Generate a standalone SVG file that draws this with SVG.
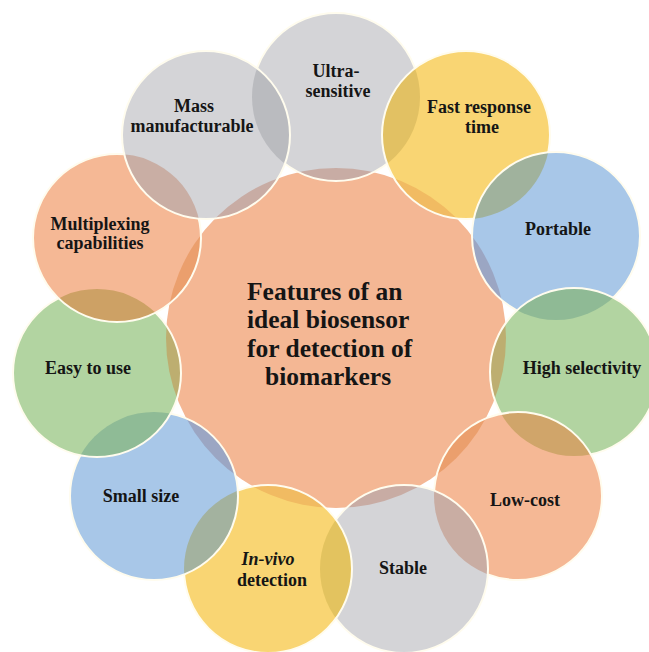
<svg xmlns="http://www.w3.org/2000/svg" width="649" height="652" viewBox="0 0 649 652">
<style>
.o{stroke:#fffcee;stroke-width:2;fill:none}
.lbl{font-family:"Liberation Serif","Times New Roman",serif;font-weight:bold;font-size:18px;fill:#151515;text-anchor:middle}
.ctr{font-family:"Liberation Serif","Times New Roman",serif;font-weight:bold;font-size:25.5px;fill:#151515}
.gray{fill:#d4d4d7}.yel{fill:#f9d573}.blu{fill:#a8c7e8}.grn{fill:#b2d4a1}.sal{fill:#f5b895}
</style>
<defs>
<clipPath id="cc"><circle cx="336" cy="338" r="170"/></clipPath>
<clipPath id="c0"><circle cx="336" cy="97" r="84"/></clipPath>
<clipPath id="c1"><circle cx="466" cy="135" r="84"/></clipPath>
<clipPath id="c2"><circle cx="556" cy="236" r="84"/></clipPath>
<clipPath id="c3"><circle cx="574" cy="372" r="84"/></clipPath>
<clipPath id="c4"><circle cx="518" cy="496" r="84"/></clipPath>
<clipPath id="c5"><circle cx="404" cy="569" r="84"/></clipPath>
<clipPath id="c6"><circle cx="268" cy="569" r="84"/></clipPath>
<clipPath id="c7"><circle cx="154" cy="496" r="84"/></clipPath>
<clipPath id="c8"><circle cx="97" cy="373" r="84"/></clipPath>
<clipPath id="c9"><circle cx="117" cy="238" r="84"/></clipPath>
</defs>
<rect width="649" height="652" fill="#ffffff"/>

<g id="center">
<circle cx="336" cy="338" r="170" fill="#f4b794"/>
<text class="ctr" x="247" y="300">Features of an</text>
<text class="ctr" x="247" y="328">ideal biosensor</text>
<text class="ctr" x="247" y="357">for detection of</text>
<text class="ctr" x="265" y="385">biomarkers</text>
</g>

<g id="ultra-sensitive">
<circle class="gray" cx="336" cy="97" r="84"/>
<circle cx="336" cy="97" r="84" fill="#c8aca4" clip-path="url(#cc)"/>
<circle class="o" cx="336" cy="97" r="84"/>
<text class="lbl" x="336" y="77">Ultra-</text>
<text class="lbl" x="338" y="97">sensitive</text>
</g>

<g id="fast-response">
<circle class="yel" cx="466" cy="135" r="84"/>
<circle cx="466" cy="135" r="84" fill="#f1bb62" clip-path="url(#cc)"/>
<circle cx="466" cy="135" r="84" fill="#e2c163" clip-path="url(#c0)"/>
<circle class="o" cx="466" cy="135" r="84"/>
<text class="lbl" x="479" y="113">Fast response</text>
<text class="lbl" x="482" y="133">time</text>
</g>

<g id="portable">
<circle class="blu" cx="556" cy="236" r="84"/>
<circle cx="556" cy="236" r="84" fill="#9ba6c3" clip-path="url(#cc)"/>
<circle cx="556" cy="236" r="84" fill="#a0b29d" clip-path="url(#c1)"/>
<circle class="o" cx="556" cy="236" r="84"/>
<text class="lbl" x="558" y="235">Portable</text>
</g>

<g id="high-selectivity">
<circle class="grn" cx="574" cy="372" r="84"/>
<circle cx="574" cy="372" r="84" fill="#bdae70" clip-path="url(#cc)"/>
<circle cx="574" cy="372" r="84" fill="#8fba95" clip-path="url(#c2)"/>
<circle class="o" cx="574" cy="372" r="84"/>
<text class="lbl" x="582" y="374">High selectivity</text>
</g>

<g id="low-cost">
<circle class="sal" cx="518" cy="496" r="84"/>
<circle cx="518" cy="496" r="84" fill="#eb9f6d" clip-path="url(#cc)"/>
<circle cx="518" cy="496" r="84" fill="#d0a56a" clip-path="url(#c3)"/>
<circle class="o" cx="518" cy="496" r="84"/>
<text class="lbl" x="525" y="506">Low-cost</text>
</g>

<g id="stable">
<circle class="gray" cx="404" cy="569" r="84"/>
<circle cx="404" cy="569" r="84" fill="#c8aca4" clip-path="url(#cc)"/>
<circle cx="404" cy="569" r="84" fill="#c9ada3" clip-path="url(#c4)"/>
<circle class="o" cx="404" cy="569" r="84"/>
<text class="lbl" x="403" y="574">Stable</text>
</g>

<g id="in-vivo-detection">
<circle class="yel" cx="268" cy="569" r="84"/>
<circle cx="268" cy="569" r="84" fill="#f1bb62" clip-path="url(#cc)"/>
<circle cx="268" cy="569" r="84" fill="#e3c35f" clip-path="url(#c5)"/>
<circle class="o" cx="268" cy="569" r="84"/>
<text class="lbl" x="268" y="565" font-style="italic">In-vivo</text>
<text class="lbl" x="272" y="586">detection</text>
</g>

<g id="small-size">
<circle class="blu" cx="154" cy="496" r="84"/>
<circle cx="154" cy="496" r="84" fill="#9ba6c3" clip-path="url(#cc)"/>
<circle cx="154" cy="496" r="84" fill="#a3b29f" clip-path="url(#c6)"/>
<circle class="o" cx="154" cy="496" r="84"/>
<text class="lbl" x="141" y="502">Small size</text>
</g>

<g id="easy-to-use">
<circle class="grn" cx="97" cy="373" r="84"/>
<circle cx="97" cy="373" r="84" fill="#bdae70" clip-path="url(#cc)"/>
<circle cx="97" cy="373" r="84" fill="#8fbb96" clip-path="url(#c7)"/>
<circle class="o" cx="97" cy="373" r="84"/>
<text class="lbl" x="88" y="374">Easy to use</text>
</g>

<g id="multiplexing">
<circle class="sal" cx="117" cy="238" r="84"/>
<circle cx="117" cy="238" r="84" fill="#eb9f6d" clip-path="url(#cc)"/>
<circle cx="117" cy="238" r="84" fill="#cda165" clip-path="url(#c8)"/>
<circle class="o" cx="117" cy="238" r="84"/>
<text class="lbl" x="100" y="230">Multiplexing</text>
<text class="lbl" x="100" y="249">capabilities</text>
</g>

<g id="mass-manufacturable">
<circle class="gray" cx="206" cy="135" r="84"/>
<circle cx="206" cy="135" r="84" fill="#c8aca4" clip-path="url(#cc)"/>
<circle cx="206" cy="135" r="84" fill="#c9aea4" clip-path="url(#c9)"/>
<circle cx="206" cy="135" r="84" fill="#babbbf" clip-path="url(#c0)"/>
<circle class="o" cx="206" cy="135" r="84"/>
<text class="lbl" x="194" y="112">Mass</text>
<text class="lbl" x="192" y="132">manufacturable</text>
</g>
</svg>
